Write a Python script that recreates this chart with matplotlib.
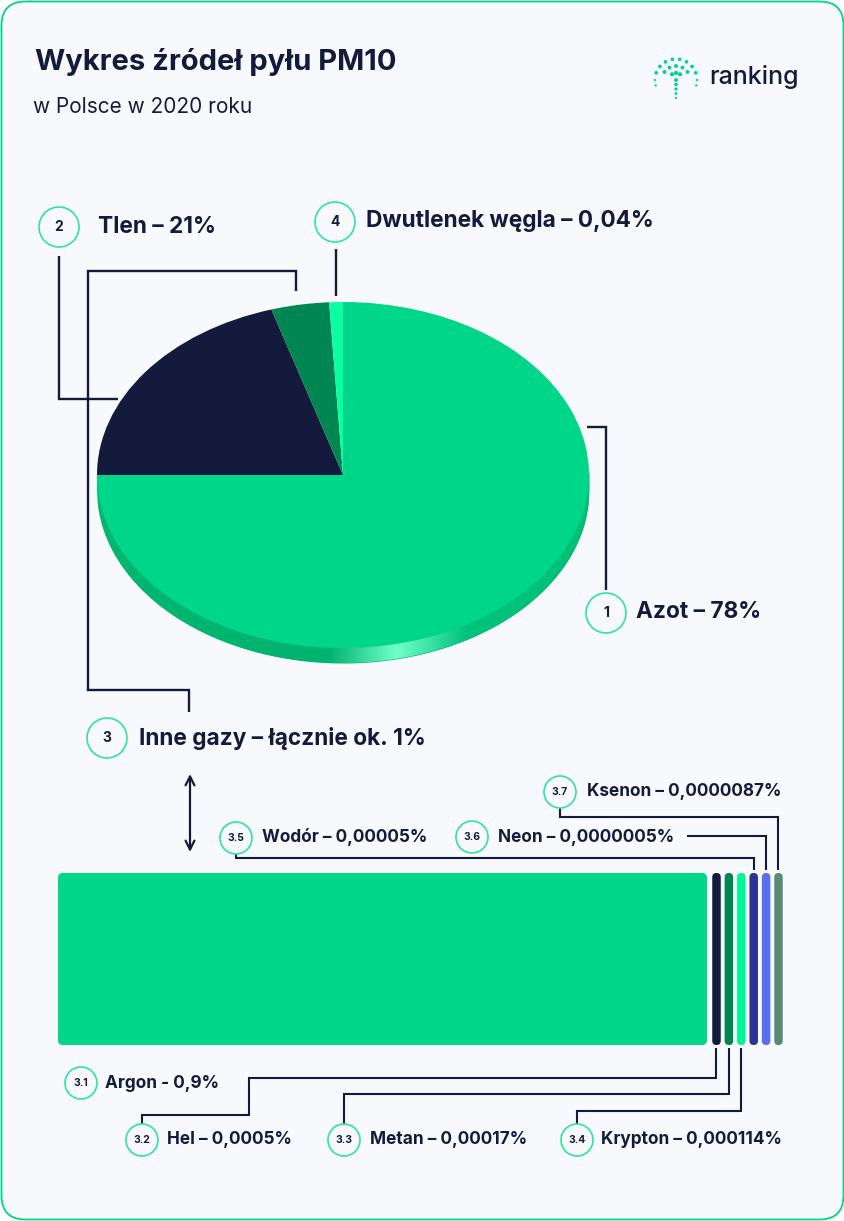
import matplotlib
matplotlib.use('Agg')
import matplotlib.pyplot as plt
from matplotlib.patches import FancyBboxPatch, Circle
from matplotlib.colors import LinearSegmentedColormap
import numpy as np

plt.rcParams['font.family'] = ['Inter', 'DejaVu Sans']

# ---------------- data ----------------
title = 'Wykres źródeł pyłu PM10'
subtitle = 'w Polsce w 2020 roku'
brand = 'ranking'

pie_numbers = ['1', '2', '3', '4']
pie_labels = ['Azot – 78%', 'Tlen – 21%', 'Inne gazy – łącznie ok. 1%',
              'Dwutlenek węgla – 0,04%']
pie_shares = [75.0, 20.3, 3.8, 0.9]          # slice shares as drawn
pie_colors = ['#00d689', '#141a3c', '#008650', '#0affa2']

gas_numbers = ['3.1', '3.2', '3.3', '3.4', '3.5', '3.6', '3.7']
gas_labels = ['Argon - 0,9%', 'Hel – 0,0005%', 'Metan – 0,00017%',
              'Krypton – 0,000114%', 'Wodór – 0,00005%',
              'Neon – 0,0000005%', 'Ksenon – 0,0000087%']
gas_colors = ['#00d689', '#141a3c', '#008550', '#00f59a',
              '#283593', '#5a6ff0', '#5a8a74']

# ---------------- style ----------------
W, H = 845, 1221
NAVY = '#141a3c'
RING = '#2ee59d'
BG = '#f8f9fc'
BORDER = '#00d68a'

fig = plt.figure(figsize=(W / 100, H / 100), dpi=100, facecolor='white')
ax = fig.add_axes([0, 0, 1, 1])
ax.set_xlim(0, W)
ax.set_ylim(H, 0)
ax.axis('off')

ax.add_patch(FancyBboxPatch((1.5, 1.5), W - 3, H - 3,
                            boxstyle='round,pad=0,rounding_size=24',
                            fc=BG, ec=BORDER, lw=1.3, zorder=0))

# title
ax.text(35, 62, title, fontsize=21, fontweight='bold', color=NAVY,
        va='center', ha='left')
ax.text(33, 107, subtitle, fontsize=15, color=NAVY, va='center', ha='left')

# logo dots
cx0, cy0 = 676, 80
dots = []
for r, angs, s in [(21, np.arange(20, 161, 20), 7), (14, np.arange(35, 146, 27.5), 8),
                   (7, [55, 90, 125], 9)]:
    for a in angs:
        dots.append((cx0 + r * np.cos(np.radians(a)), cy0 - r * np.sin(np.radians(a)), s))
for a in [0, 180, -15, 195]:
    dots.append((cx0 + 21 * np.cos(np.radians(a)), cy0 - 21 * np.sin(np.radians(a)), 3))
for k, yy in enumerate(np.arange(80, 99, 4.5)):
    dots.append((cx0, yy, 8 - k * 1.3))
dx, dy, ds = zip(*dots)
ax.scatter(dx, dy, s=ds, color=BORDER, zorder=3, linewidths=0)
ax.text(709, 77, brand, fontsize=18, color=NAVY, va='center', ha='left',
        fontweight='medium')


def num_circle(x, y, r, txt, fs):
    ax.add_patch(Circle((x, y), r, fc=BG, ec=RING, lw=1.2, zorder=3))
    ax.text(x, y, txt, fontsize=fs, fontweight='bold', color=NAVY,
            ha='center', va='center', zorder=4)


def leader(xs, ys, lw=1.7):
    ax.plot(xs, ys, color=NAVY, lw=lw, solid_joinstyle='miter',
            solid_capstyle='butt', zorder=2)


# ---------------- pie ----------------
top, bot, left, right = 302, 663, 97, 589
depth = 15 / 173
pax = fig.add_axes([left / W, (H - bot) / H, (right - left) / W, (bot - top) / H])
pax.patch.set_alpha(0)
wedges, _ = pax.pie(pie_shares, colors=pie_colors, startangle=90,
                    counterclock=False, radius=1,
                    wedgeprops=dict(linewidth=0.4, edgecolor='none'))
for w in wedges:
    w.set_zorder(2)
xs = np.linspace(-1, 1, 600)
ylow = -np.sqrt(np.clip(1 - xs ** 2, 0, None))
rim = pax.fill_between(xs, ylow - depth, ylow + 0.05, color='#00b36e', lw=0, zorder=1)
rim_cmap = LinearSegmentedColormap.from_list(
    'rim', [(0, '#00b870'), (0.47, '#00b36e'), (0.61, '#70ffc8'),
            (0.75, '#00c47c'), (1, '#00c078')])
grad = np.linspace(0, 1, 512)[None, :]
im = pax.imshow(grad, extent=[-1, 1, -1 - depth, 0], aspect='auto',
                cmap=rim_cmap, zorder=1.5, interpolation='bilinear')
im.set_clip_path(rim.get_paths()[0], transform=pax.transData)
pax.set_aspect('auto')
pax.set_xlim(-1, 1)
pax.set_ylim(-1 - depth, 1)
pax.axis('off')

PFS = 16.3
# pie labels
num_circle(606, 613, 20, pie_numbers[0], 10)
ax.text(636, 612, pie_labels[0], fontsize=PFS, fontweight='bold', color=NAVY,
        va='center')
leader([587, 606, 606], [427, 427, 590])

num_circle(59, 227, 20, pie_numbers[1], 10)
ax.text(98, 227, pie_labels[1], fontsize=PFS, fontweight='bold', color=NAVY,
        va='center')
leader([59, 59, 118], [256, 399, 399])

num_circle(107, 738, 20, pie_numbers[2], 10)
ax.text(139, 738, pie_labels[2], fontsize=PFS, fontweight='bold', color=NAVY,
        va='center')
leader([296, 296, 88, 88, 189, 189], [291, 271, 271, 690, 690, 712])

num_circle(335, 222, 20, pie_numbers[3], 10)
ax.text(366, 221, pie_labels[3], fontsize=PFS, fontweight='bold', color=NAVY,
        va='center')
leader([336, 336], [249, 296])

# double arrow
ax.annotate('', xy=(190, 852), xytext=(190, 774),
            arrowprops=dict(arrowstyle='<->', color=NAVY, lw=1.6,
                            mutation_scale=16, shrinkA=0, shrinkB=0))

# ---------------- bars ----------------
bar_top, bar_bot = 873, 1045
bh = bar_bot - bar_top
ax.add_patch(FancyBboxPatch((58, bar_top), 649, bh,
                            boxstyle='round,pad=0,rounding_size=5',
                            fc=gas_colors[0], ec='none', zorder=2))
thin_w = 8.5
centers = [716.5 + 12.4 * i for i in range(len(gas_colors) - 1)]
for c, col in zip(centers, gas_colors[1:]):
    ax.add_patch(FancyBboxPatch((c - thin_w / 2, bar_top), thin_w, bh,
                                boxstyle='round,pad=0,rounding_size=4.2',
                                fc=col, ec='none', zorder=2))

GFS = 12.4
# bottom labels
num_circle(81, 1083, 16, gas_numbers[0], 7.5)
ax.text(105, 1083, gas_labels[0], fontsize=GFS, fontweight='bold', color=NAVY, va='center')

num_circle(142, 1140, 16, gas_numbers[1], 7.5)
ax.text(167, 1140, gas_labels[1], fontsize=GFS, fontweight='bold', color=NAVY, va='center')
leader([centers[0], centers[0], 249, 249, 142, 142], [1048, 1078, 1078, 1115, 1115, 1124], lw=1.5)

num_circle(344, 1140, 16, gas_numbers[2], 7.5)
ax.text(370, 1140, gas_labels[2], fontsize=GFS, fontweight='bold', color=NAVY, va='center')
leader([centers[1], centers[1], 344, 344], [1048, 1094, 1094, 1124], lw=1.5)

num_circle(577, 1140, 16, gas_numbers[3], 7.5)
ax.text(601, 1140, gas_labels[3], fontsize=GFS, fontweight='bold', color=NAVY, va='center')
leader([centers[2], centers[2], 577, 577], [1048, 1111, 1111, 1124], lw=1.5)

# top labels
num_circle(236, 838, 16, gas_numbers[4], 7.5)
ax.text(262, 837, gas_labels[4], fontsize=GFS, fontweight='bold', color=NAVY, va='center')
leader([236, 236, centers[3], centers[3]], [854, 858, 858, 870], lw=1.5)

num_circle(472, 837, 16, gas_numbers[5], 7.5)
ax.text(498, 837, gas_labels[5], fontsize=GFS, fontweight='bold', color=NAVY, va='center')
leader([687, centers[4], centers[4]], [836, 836, 870], lw=1.5)

num_circle(560, 792, 16, gas_numbers[6], 7.5)
ax.text(587, 791, gas_labels[6], fontsize=GFS, fontweight='bold', color=NAVY, va='center')
leader([560, 560, centers[5], centers[5]], [808, 817, 817, 870], lw=1.5)

fig.savefig('out.png', dpi=100, facecolor='white')
